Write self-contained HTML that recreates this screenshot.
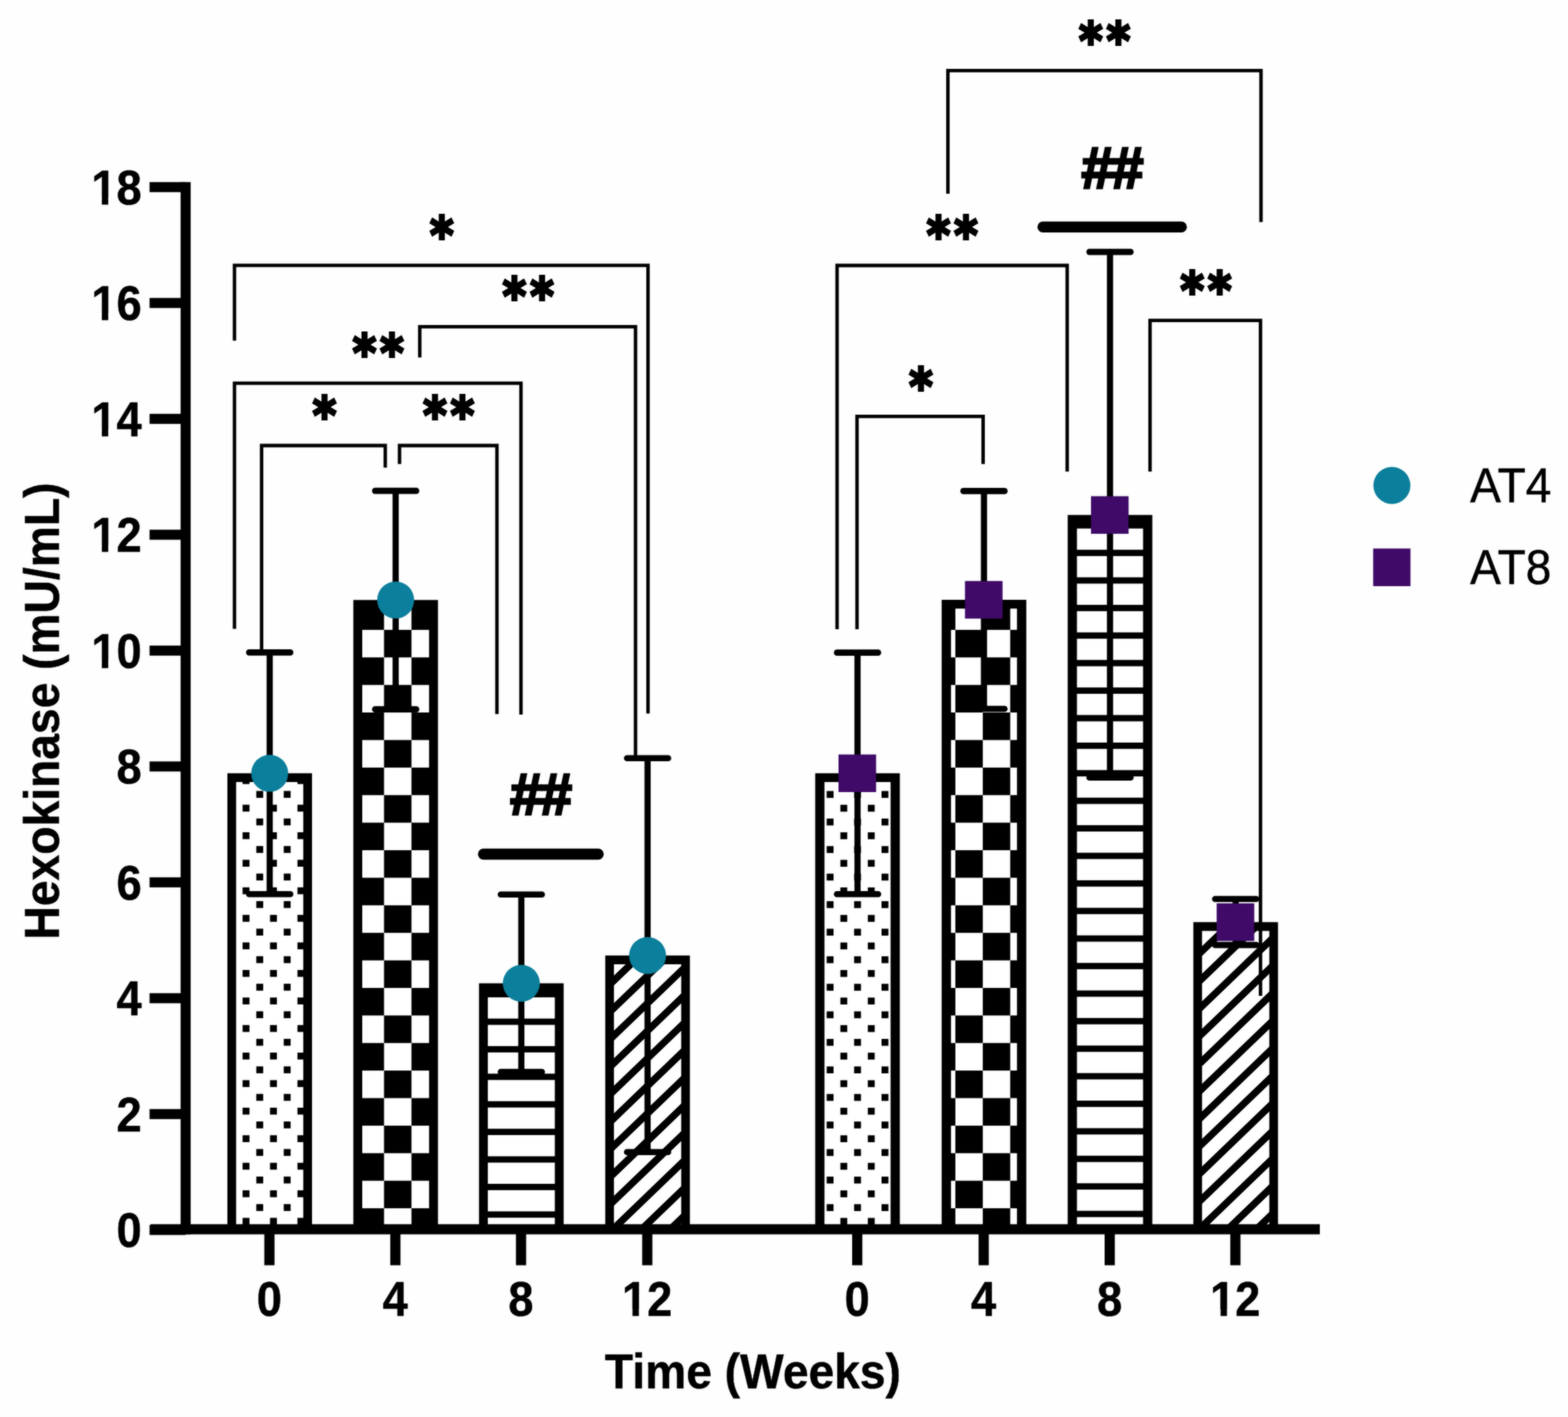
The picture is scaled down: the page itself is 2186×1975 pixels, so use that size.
<!DOCTYPE html>
<html lang="en">
<head>
<meta charset="utf-8">
<title>Hexokinase (mU/mL) vs Time (Weeks)</title>
<style>
html,body{margin:0;padding:0;background:#fefefe;}
body{width:2186px;height:1975px;overflow:hidden;font-family:"Liberation Sans",sans-serif;}
svg{display:block;}
.soft{filter:blur(0.8px);opacity:.55;}
</style>
</head>
<body>
<svg xmlns="http://www.w3.org/2000/svg" width="2186" height="1975" viewBox="0 0 2186 1975">
<g id="chart">
<rect width="2186" height="1975" fill="#fefefe"/>
<clipPath id="c0"><rect x="319.00" y="1079.80" width="114.00" height="634.50"/></clipPath>
<rect x="318.00" y="1078.80" width="116.00" height="635.50" fill="#fff" />
<g clip-path="url(#c0)">
<rect x="280.82" y="1064.02" width="9.60" height="9.60" fill="#000" />
<rect x="319.07" y="1064.02" width="9.60" height="9.60" fill="#000" />
<rect x="357.32" y="1064.02" width="9.60" height="9.60" fill="#000" />
<rect x="395.57" y="1064.02" width="9.60" height="9.60" fill="#000" />
<rect x="433.82" y="1064.02" width="9.60" height="9.60" fill="#000" />
<rect x="472.07" y="1064.02" width="9.60" height="9.60" fill="#000" />
<rect x="261.70" y="1083.21" width="9.60" height="9.60" fill="#000" />
<rect x="299.95" y="1083.21" width="9.60" height="9.60" fill="#000" />
<rect x="338.20" y="1083.21" width="9.60" height="9.60" fill="#000" />
<rect x="376.45" y="1083.21" width="9.60" height="9.60" fill="#000" />
<rect x="414.70" y="1083.21" width="9.60" height="9.60" fill="#000" />
<rect x="452.95" y="1083.21" width="9.60" height="9.60" fill="#000" />
<rect x="491.20" y="1083.21" width="9.60" height="9.60" fill="#000" />
<rect x="280.82" y="1102.41" width="9.60" height="9.60" fill="#000" />
<rect x="319.07" y="1102.41" width="9.60" height="9.60" fill="#000" />
<rect x="357.32" y="1102.41" width="9.60" height="9.60" fill="#000" />
<rect x="395.57" y="1102.41" width="9.60" height="9.60" fill="#000" />
<rect x="433.82" y="1102.41" width="9.60" height="9.60" fill="#000" />
<rect x="472.07" y="1102.41" width="9.60" height="9.60" fill="#000" />
<rect x="261.70" y="1121.60" width="9.60" height="9.60" fill="#000" />
<rect x="299.95" y="1121.60" width="9.60" height="9.60" fill="#000" />
<rect x="338.20" y="1121.60" width="9.60" height="9.60" fill="#000" />
<rect x="376.45" y="1121.60" width="9.60" height="9.60" fill="#000" />
<rect x="414.70" y="1121.60" width="9.60" height="9.60" fill="#000" />
<rect x="452.95" y="1121.60" width="9.60" height="9.60" fill="#000" />
<rect x="491.20" y="1121.60" width="9.60" height="9.60" fill="#000" />
<rect x="280.82" y="1140.80" width="9.60" height="9.60" fill="#000" />
<rect x="319.07" y="1140.80" width="9.60" height="9.60" fill="#000" />
<rect x="357.32" y="1140.80" width="9.60" height="9.60" fill="#000" />
<rect x="395.57" y="1140.80" width="9.60" height="9.60" fill="#000" />
<rect x="433.82" y="1140.80" width="9.60" height="9.60" fill="#000" />
<rect x="472.07" y="1140.80" width="9.60" height="9.60" fill="#000" />
<rect x="261.70" y="1159.99" width="9.60" height="9.60" fill="#000" />
<rect x="299.95" y="1159.99" width="9.60" height="9.60" fill="#000" />
<rect x="338.20" y="1159.99" width="9.60" height="9.60" fill="#000" />
<rect x="376.45" y="1159.99" width="9.60" height="9.60" fill="#000" />
<rect x="414.70" y="1159.99" width="9.60" height="9.60" fill="#000" />
<rect x="452.95" y="1159.99" width="9.60" height="9.60" fill="#000" />
<rect x="491.20" y="1159.99" width="9.60" height="9.60" fill="#000" />
<rect x="280.82" y="1179.19" width="9.60" height="9.60" fill="#000" />
<rect x="319.07" y="1179.19" width="9.60" height="9.60" fill="#000" />
<rect x="357.32" y="1179.19" width="9.60" height="9.60" fill="#000" />
<rect x="395.57" y="1179.19" width="9.60" height="9.60" fill="#000" />
<rect x="433.82" y="1179.19" width="9.60" height="9.60" fill="#000" />
<rect x="472.07" y="1179.19" width="9.60" height="9.60" fill="#000" />
<rect x="261.70" y="1198.38" width="9.60" height="9.60" fill="#000" />
<rect x="299.95" y="1198.38" width="9.60" height="9.60" fill="#000" />
<rect x="338.20" y="1198.38" width="9.60" height="9.60" fill="#000" />
<rect x="376.45" y="1198.38" width="9.60" height="9.60" fill="#000" />
<rect x="414.70" y="1198.38" width="9.60" height="9.60" fill="#000" />
<rect x="452.95" y="1198.38" width="9.60" height="9.60" fill="#000" />
<rect x="491.20" y="1198.38" width="9.60" height="9.60" fill="#000" />
<rect x="280.82" y="1217.58" width="9.60" height="9.60" fill="#000" />
<rect x="319.07" y="1217.58" width="9.60" height="9.60" fill="#000" />
<rect x="357.32" y="1217.58" width="9.60" height="9.60" fill="#000" />
<rect x="395.57" y="1217.58" width="9.60" height="9.60" fill="#000" />
<rect x="433.82" y="1217.58" width="9.60" height="9.60" fill="#000" />
<rect x="472.07" y="1217.58" width="9.60" height="9.60" fill="#000" />
<rect x="261.70" y="1236.77" width="9.60" height="9.60" fill="#000" />
<rect x="299.95" y="1236.77" width="9.60" height="9.60" fill="#000" />
<rect x="338.20" y="1236.77" width="9.60" height="9.60" fill="#000" />
<rect x="376.45" y="1236.77" width="9.60" height="9.60" fill="#000" />
<rect x="414.70" y="1236.77" width="9.60" height="9.60" fill="#000" />
<rect x="452.95" y="1236.77" width="9.60" height="9.60" fill="#000" />
<rect x="491.20" y="1236.77" width="9.60" height="9.60" fill="#000" />
<rect x="280.82" y="1255.97" width="9.60" height="9.60" fill="#000" />
<rect x="319.07" y="1255.97" width="9.60" height="9.60" fill="#000" />
<rect x="357.32" y="1255.97" width="9.60" height="9.60" fill="#000" />
<rect x="395.57" y="1255.97" width="9.60" height="9.60" fill="#000" />
<rect x="433.82" y="1255.97" width="9.60" height="9.60" fill="#000" />
<rect x="472.07" y="1255.97" width="9.60" height="9.60" fill="#000" />
<rect x="261.70" y="1275.16" width="9.60" height="9.60" fill="#000" />
<rect x="299.95" y="1275.16" width="9.60" height="9.60" fill="#000" />
<rect x="338.20" y="1275.16" width="9.60" height="9.60" fill="#000" />
<rect x="376.45" y="1275.16" width="9.60" height="9.60" fill="#000" />
<rect x="414.70" y="1275.16" width="9.60" height="9.60" fill="#000" />
<rect x="452.95" y="1275.16" width="9.60" height="9.60" fill="#000" />
<rect x="491.20" y="1275.16" width="9.60" height="9.60" fill="#000" />
<rect x="280.82" y="1294.36" width="9.60" height="9.60" fill="#000" />
<rect x="319.07" y="1294.36" width="9.60" height="9.60" fill="#000" />
<rect x="357.32" y="1294.36" width="9.60" height="9.60" fill="#000" />
<rect x="395.57" y="1294.36" width="9.60" height="9.60" fill="#000" />
<rect x="433.82" y="1294.36" width="9.60" height="9.60" fill="#000" />
<rect x="472.07" y="1294.36" width="9.60" height="9.60" fill="#000" />
<rect x="261.70" y="1313.55" width="9.60" height="9.60" fill="#000" />
<rect x="299.95" y="1313.55" width="9.60" height="9.60" fill="#000" />
<rect x="338.20" y="1313.55" width="9.60" height="9.60" fill="#000" />
<rect x="376.45" y="1313.55" width="9.60" height="9.60" fill="#000" />
<rect x="414.70" y="1313.55" width="9.60" height="9.60" fill="#000" />
<rect x="452.95" y="1313.55" width="9.60" height="9.60" fill="#000" />
<rect x="491.20" y="1313.55" width="9.60" height="9.60" fill="#000" />
<rect x="280.82" y="1332.75" width="9.60" height="9.60" fill="#000" />
<rect x="319.07" y="1332.75" width="9.60" height="9.60" fill="#000" />
<rect x="357.32" y="1332.75" width="9.60" height="9.60" fill="#000" />
<rect x="395.57" y="1332.75" width="9.60" height="9.60" fill="#000" />
<rect x="433.82" y="1332.75" width="9.60" height="9.60" fill="#000" />
<rect x="472.07" y="1332.75" width="9.60" height="9.60" fill="#000" />
<rect x="261.70" y="1351.94" width="9.60" height="9.60" fill="#000" />
<rect x="299.95" y="1351.94" width="9.60" height="9.60" fill="#000" />
<rect x="338.20" y="1351.94" width="9.60" height="9.60" fill="#000" />
<rect x="376.45" y="1351.94" width="9.60" height="9.60" fill="#000" />
<rect x="414.70" y="1351.94" width="9.60" height="9.60" fill="#000" />
<rect x="452.95" y="1351.94" width="9.60" height="9.60" fill="#000" />
<rect x="491.20" y="1351.94" width="9.60" height="9.60" fill="#000" />
<rect x="280.82" y="1371.14" width="9.60" height="9.60" fill="#000" />
<rect x="319.07" y="1371.14" width="9.60" height="9.60" fill="#000" />
<rect x="357.32" y="1371.14" width="9.60" height="9.60" fill="#000" />
<rect x="395.57" y="1371.14" width="9.60" height="9.60" fill="#000" />
<rect x="433.82" y="1371.14" width="9.60" height="9.60" fill="#000" />
<rect x="472.07" y="1371.14" width="9.60" height="9.60" fill="#000" />
<rect x="261.70" y="1390.33" width="9.60" height="9.60" fill="#000" />
<rect x="299.95" y="1390.33" width="9.60" height="9.60" fill="#000" />
<rect x="338.20" y="1390.33" width="9.60" height="9.60" fill="#000" />
<rect x="376.45" y="1390.33" width="9.60" height="9.60" fill="#000" />
<rect x="414.70" y="1390.33" width="9.60" height="9.60" fill="#000" />
<rect x="452.95" y="1390.33" width="9.60" height="9.60" fill="#000" />
<rect x="491.20" y="1390.33" width="9.60" height="9.60" fill="#000" />
<rect x="280.82" y="1409.53" width="9.60" height="9.60" fill="#000" />
<rect x="319.07" y="1409.53" width="9.60" height="9.60" fill="#000" />
<rect x="357.32" y="1409.53" width="9.60" height="9.60" fill="#000" />
<rect x="395.57" y="1409.53" width="9.60" height="9.60" fill="#000" />
<rect x="433.82" y="1409.53" width="9.60" height="9.60" fill="#000" />
<rect x="472.07" y="1409.53" width="9.60" height="9.60" fill="#000" />
<rect x="261.70" y="1428.72" width="9.60" height="9.60" fill="#000" />
<rect x="299.95" y="1428.72" width="9.60" height="9.60" fill="#000" />
<rect x="338.20" y="1428.72" width="9.60" height="9.60" fill="#000" />
<rect x="376.45" y="1428.72" width="9.60" height="9.60" fill="#000" />
<rect x="414.70" y="1428.72" width="9.60" height="9.60" fill="#000" />
<rect x="452.95" y="1428.72" width="9.60" height="9.60" fill="#000" />
<rect x="491.20" y="1428.72" width="9.60" height="9.60" fill="#000" />
<rect x="280.82" y="1447.92" width="9.60" height="9.60" fill="#000" />
<rect x="319.07" y="1447.92" width="9.60" height="9.60" fill="#000" />
<rect x="357.32" y="1447.92" width="9.60" height="9.60" fill="#000" />
<rect x="395.57" y="1447.92" width="9.60" height="9.60" fill="#000" />
<rect x="433.82" y="1447.92" width="9.60" height="9.60" fill="#000" />
<rect x="472.07" y="1447.92" width="9.60" height="9.60" fill="#000" />
<rect x="261.70" y="1467.11" width="9.60" height="9.60" fill="#000" />
<rect x="299.95" y="1467.11" width="9.60" height="9.60" fill="#000" />
<rect x="338.20" y="1467.11" width="9.60" height="9.60" fill="#000" />
<rect x="376.45" y="1467.11" width="9.60" height="9.60" fill="#000" />
<rect x="414.70" y="1467.11" width="9.60" height="9.60" fill="#000" />
<rect x="452.95" y="1467.11" width="9.60" height="9.60" fill="#000" />
<rect x="491.20" y="1467.11" width="9.60" height="9.60" fill="#000" />
<rect x="280.82" y="1486.31" width="9.60" height="9.60" fill="#000" />
<rect x="319.07" y="1486.31" width="9.60" height="9.60" fill="#000" />
<rect x="357.32" y="1486.31" width="9.60" height="9.60" fill="#000" />
<rect x="395.57" y="1486.31" width="9.60" height="9.60" fill="#000" />
<rect x="433.82" y="1486.31" width="9.60" height="9.60" fill="#000" />
<rect x="472.07" y="1486.31" width="9.60" height="9.60" fill="#000" />
<rect x="261.70" y="1505.50" width="9.60" height="9.60" fill="#000" />
<rect x="299.95" y="1505.50" width="9.60" height="9.60" fill="#000" />
<rect x="338.20" y="1505.50" width="9.60" height="9.60" fill="#000" />
<rect x="376.45" y="1505.50" width="9.60" height="9.60" fill="#000" />
<rect x="414.70" y="1505.50" width="9.60" height="9.60" fill="#000" />
<rect x="452.95" y="1505.50" width="9.60" height="9.60" fill="#000" />
<rect x="491.20" y="1505.50" width="9.60" height="9.60" fill="#000" />
<rect x="280.82" y="1524.70" width="9.60" height="9.60" fill="#000" />
<rect x="319.07" y="1524.70" width="9.60" height="9.60" fill="#000" />
<rect x="357.32" y="1524.70" width="9.60" height="9.60" fill="#000" />
<rect x="395.57" y="1524.70" width="9.60" height="9.60" fill="#000" />
<rect x="433.82" y="1524.70" width="9.60" height="9.60" fill="#000" />
<rect x="472.07" y="1524.70" width="9.60" height="9.60" fill="#000" />
<rect x="261.70" y="1543.89" width="9.60" height="9.60" fill="#000" />
<rect x="299.95" y="1543.89" width="9.60" height="9.60" fill="#000" />
<rect x="338.20" y="1543.89" width="9.60" height="9.60" fill="#000" />
<rect x="376.45" y="1543.89" width="9.60" height="9.60" fill="#000" />
<rect x="414.70" y="1543.89" width="9.60" height="9.60" fill="#000" />
<rect x="452.95" y="1543.89" width="9.60" height="9.60" fill="#000" />
<rect x="491.20" y="1543.89" width="9.60" height="9.60" fill="#000" />
<rect x="280.82" y="1563.09" width="9.60" height="9.60" fill="#000" />
<rect x="319.07" y="1563.09" width="9.60" height="9.60" fill="#000" />
<rect x="357.32" y="1563.09" width="9.60" height="9.60" fill="#000" />
<rect x="395.57" y="1563.09" width="9.60" height="9.60" fill="#000" />
<rect x="433.82" y="1563.09" width="9.60" height="9.60" fill="#000" />
<rect x="472.07" y="1563.09" width="9.60" height="9.60" fill="#000" />
<rect x="261.70" y="1582.28" width="9.60" height="9.60" fill="#000" />
<rect x="299.95" y="1582.28" width="9.60" height="9.60" fill="#000" />
<rect x="338.20" y="1582.28" width="9.60" height="9.60" fill="#000" />
<rect x="376.45" y="1582.28" width="9.60" height="9.60" fill="#000" />
<rect x="414.70" y="1582.28" width="9.60" height="9.60" fill="#000" />
<rect x="452.95" y="1582.28" width="9.60" height="9.60" fill="#000" />
<rect x="491.20" y="1582.28" width="9.60" height="9.60" fill="#000" />
<rect x="280.82" y="1601.48" width="9.60" height="9.60" fill="#000" />
<rect x="319.07" y="1601.48" width="9.60" height="9.60" fill="#000" />
<rect x="357.32" y="1601.48" width="9.60" height="9.60" fill="#000" />
<rect x="395.57" y="1601.48" width="9.60" height="9.60" fill="#000" />
<rect x="433.82" y="1601.48" width="9.60" height="9.60" fill="#000" />
<rect x="472.07" y="1601.48" width="9.60" height="9.60" fill="#000" />
<rect x="261.70" y="1620.67" width="9.60" height="9.60" fill="#000" />
<rect x="299.95" y="1620.67" width="9.60" height="9.60" fill="#000" />
<rect x="338.20" y="1620.67" width="9.60" height="9.60" fill="#000" />
<rect x="376.45" y="1620.67" width="9.60" height="9.60" fill="#000" />
<rect x="414.70" y="1620.67" width="9.60" height="9.60" fill="#000" />
<rect x="452.95" y="1620.67" width="9.60" height="9.60" fill="#000" />
<rect x="491.20" y="1620.67" width="9.60" height="9.60" fill="#000" />
<rect x="280.82" y="1639.87" width="9.60" height="9.60" fill="#000" />
<rect x="319.07" y="1639.87" width="9.60" height="9.60" fill="#000" />
<rect x="357.32" y="1639.87" width="9.60" height="9.60" fill="#000" />
<rect x="395.57" y="1639.87" width="9.60" height="9.60" fill="#000" />
<rect x="433.82" y="1639.87" width="9.60" height="9.60" fill="#000" />
<rect x="472.07" y="1639.87" width="9.60" height="9.60" fill="#000" />
<rect x="261.70" y="1659.06" width="9.60" height="9.60" fill="#000" />
<rect x="299.95" y="1659.06" width="9.60" height="9.60" fill="#000" />
<rect x="338.20" y="1659.06" width="9.60" height="9.60" fill="#000" />
<rect x="376.45" y="1659.06" width="9.60" height="9.60" fill="#000" />
<rect x="414.70" y="1659.06" width="9.60" height="9.60" fill="#000" />
<rect x="452.95" y="1659.06" width="9.60" height="9.60" fill="#000" />
<rect x="491.20" y="1659.06" width="9.60" height="9.60" fill="#000" />
<rect x="280.82" y="1678.26" width="9.60" height="9.60" fill="#000" />
<rect x="319.07" y="1678.26" width="9.60" height="9.60" fill="#000" />
<rect x="357.32" y="1678.26" width="9.60" height="9.60" fill="#000" />
<rect x="395.57" y="1678.26" width="9.60" height="9.60" fill="#000" />
<rect x="433.82" y="1678.26" width="9.60" height="9.60" fill="#000" />
<rect x="472.07" y="1678.26" width="9.60" height="9.60" fill="#000" />
<rect x="261.70" y="1697.45" width="9.60" height="9.60" fill="#000" />
<rect x="299.95" y="1697.45" width="9.60" height="9.60" fill="#000" />
<rect x="338.20" y="1697.45" width="9.60" height="9.60" fill="#000" />
<rect x="376.45" y="1697.45" width="9.60" height="9.60" fill="#000" />
<rect x="414.70" y="1697.45" width="9.60" height="9.60" fill="#000" />
<rect x="452.95" y="1697.45" width="9.60" height="9.60" fill="#000" />
<rect x="491.20" y="1697.45" width="9.60" height="9.60" fill="#000" />
<rect x="280.82" y="1716.65" width="9.60" height="9.60" fill="#000" />
<rect x="319.07" y="1716.65" width="9.60" height="9.60" fill="#000" />
<rect x="357.32" y="1716.65" width="9.60" height="9.60" fill="#000" />
<rect x="395.57" y="1716.65" width="9.60" height="9.60" fill="#000" />
<rect x="433.82" y="1716.65" width="9.60" height="9.60" fill="#000" />
<rect x="472.07" y="1716.65" width="9.60" height="9.60" fill="#000" />
<rect x="261.70" y="1735.84" width="9.60" height="9.60" fill="#000" />
<rect x="299.95" y="1735.84" width="9.60" height="9.60" fill="#000" />
<rect x="338.20" y="1735.84" width="9.60" height="9.60" fill="#000" />
<rect x="376.45" y="1735.84" width="9.60" height="9.60" fill="#000" />
<rect x="414.70" y="1735.84" width="9.60" height="9.60" fill="#000" />
<rect x="452.95" y="1735.84" width="9.60" height="9.60" fill="#000" />
<rect x="491.20" y="1735.84" width="9.60" height="9.60" fill="#000" />
</g>
<path d="M317.00 1714.30 V1077.80 H435.00 V1714.30 H422.80 V1090.00 H329.20 V1714.30 Z" fill="#000"/>
<clipPath id="c1"><rect x="494.60" y="838.30" width="114.00" height="876.00"/></clipPath>
<rect x="493.60" y="837.30" width="116.00" height="877.00" fill="#fff" />
<g clip-path="url(#c1)">
<rect x="458.90" y="801.12" width="38.25" height="38.39" fill="#000" />
<rect x="535.40" y="801.12" width="38.25" height="38.39" fill="#000" />
<rect x="611.90" y="801.12" width="38.25" height="38.39" fill="#000" />
<rect x="497.15" y="839.51" width="38.25" height="38.39" fill="#000" />
<rect x="573.65" y="839.51" width="38.25" height="38.39" fill="#000" />
<rect x="650.15" y="839.51" width="38.25" height="38.39" fill="#000" />
<rect x="458.90" y="877.90" width="38.25" height="38.39" fill="#000" />
<rect x="535.40" y="877.90" width="38.25" height="38.39" fill="#000" />
<rect x="611.90" y="877.90" width="38.25" height="38.39" fill="#000" />
<rect x="497.15" y="916.29" width="38.25" height="38.39" fill="#000" />
<rect x="573.65" y="916.29" width="38.25" height="38.39" fill="#000" />
<rect x="650.15" y="916.29" width="38.25" height="38.39" fill="#000" />
<rect x="458.90" y="954.68" width="38.25" height="38.39" fill="#000" />
<rect x="535.40" y="954.68" width="38.25" height="38.39" fill="#000" />
<rect x="611.90" y="954.68" width="38.25" height="38.39" fill="#000" />
<rect x="497.15" y="993.07" width="38.25" height="38.39" fill="#000" />
<rect x="573.65" y="993.07" width="38.25" height="38.39" fill="#000" />
<rect x="650.15" y="993.07" width="38.25" height="38.39" fill="#000" />
<rect x="458.90" y="1031.46" width="38.25" height="38.39" fill="#000" />
<rect x="535.40" y="1031.46" width="38.25" height="38.39" fill="#000" />
<rect x="611.90" y="1031.46" width="38.25" height="38.39" fill="#000" />
<rect x="497.15" y="1069.85" width="38.25" height="38.39" fill="#000" />
<rect x="573.65" y="1069.85" width="38.25" height="38.39" fill="#000" />
<rect x="650.15" y="1069.85" width="38.25" height="38.39" fill="#000" />
<rect x="458.90" y="1108.24" width="38.25" height="38.39" fill="#000" />
<rect x="535.40" y="1108.24" width="38.25" height="38.39" fill="#000" />
<rect x="611.90" y="1108.24" width="38.25" height="38.39" fill="#000" />
<rect x="497.15" y="1146.63" width="38.25" height="38.39" fill="#000" />
<rect x="573.65" y="1146.63" width="38.25" height="38.39" fill="#000" />
<rect x="650.15" y="1146.63" width="38.25" height="38.39" fill="#000" />
<rect x="458.90" y="1185.02" width="38.25" height="38.39" fill="#000" />
<rect x="535.40" y="1185.02" width="38.25" height="38.39" fill="#000" />
<rect x="611.90" y="1185.02" width="38.25" height="38.39" fill="#000" />
<rect x="497.15" y="1223.41" width="38.25" height="38.39" fill="#000" />
<rect x="573.65" y="1223.41" width="38.25" height="38.39" fill="#000" />
<rect x="650.15" y="1223.41" width="38.25" height="38.39" fill="#000" />
<rect x="458.90" y="1261.80" width="38.25" height="38.39" fill="#000" />
<rect x="535.40" y="1261.80" width="38.25" height="38.39" fill="#000" />
<rect x="611.90" y="1261.80" width="38.25" height="38.39" fill="#000" />
<rect x="497.15" y="1300.19" width="38.25" height="38.39" fill="#000" />
<rect x="573.65" y="1300.19" width="38.25" height="38.39" fill="#000" />
<rect x="650.15" y="1300.19" width="38.25" height="38.39" fill="#000" />
<rect x="458.90" y="1338.58" width="38.25" height="38.39" fill="#000" />
<rect x="535.40" y="1338.58" width="38.25" height="38.39" fill="#000" />
<rect x="611.90" y="1338.58" width="38.25" height="38.39" fill="#000" />
<rect x="497.15" y="1376.97" width="38.25" height="38.39" fill="#000" />
<rect x="573.65" y="1376.97" width="38.25" height="38.39" fill="#000" />
<rect x="650.15" y="1376.97" width="38.25" height="38.39" fill="#000" />
<rect x="458.90" y="1415.36" width="38.25" height="38.39" fill="#000" />
<rect x="535.40" y="1415.36" width="38.25" height="38.39" fill="#000" />
<rect x="611.90" y="1415.36" width="38.25" height="38.39" fill="#000" />
<rect x="497.15" y="1453.75" width="38.25" height="38.39" fill="#000" />
<rect x="573.65" y="1453.75" width="38.25" height="38.39" fill="#000" />
<rect x="650.15" y="1453.75" width="38.25" height="38.39" fill="#000" />
<rect x="458.90" y="1492.14" width="38.25" height="38.39" fill="#000" />
<rect x="535.40" y="1492.14" width="38.25" height="38.39" fill="#000" />
<rect x="611.90" y="1492.14" width="38.25" height="38.39" fill="#000" />
<rect x="497.15" y="1530.53" width="38.25" height="38.39" fill="#000" />
<rect x="573.65" y="1530.53" width="38.25" height="38.39" fill="#000" />
<rect x="650.15" y="1530.53" width="38.25" height="38.39" fill="#000" />
<rect x="458.90" y="1568.92" width="38.25" height="38.39" fill="#000" />
<rect x="535.40" y="1568.92" width="38.25" height="38.39" fill="#000" />
<rect x="611.90" y="1568.92" width="38.25" height="38.39" fill="#000" />
<rect x="497.15" y="1607.31" width="38.25" height="38.39" fill="#000" />
<rect x="573.65" y="1607.31" width="38.25" height="38.39" fill="#000" />
<rect x="650.15" y="1607.31" width="38.25" height="38.39" fill="#000" />
<rect x="458.90" y="1645.70" width="38.25" height="38.39" fill="#000" />
<rect x="535.40" y="1645.70" width="38.25" height="38.39" fill="#000" />
<rect x="611.90" y="1645.70" width="38.25" height="38.39" fill="#000" />
<rect x="497.15" y="1684.09" width="38.25" height="38.39" fill="#000" />
<rect x="573.65" y="1684.09" width="38.25" height="38.39" fill="#000" />
<rect x="650.15" y="1684.09" width="38.25" height="38.39" fill="#000" />
<rect x="458.90" y="1722.48" width="38.25" height="38.39" fill="#000" />
<rect x="535.40" y="1722.48" width="38.25" height="38.39" fill="#000" />
<rect x="611.90" y="1722.48" width="38.25" height="38.39" fill="#000" />
<rect x="497.15" y="1760.87" width="38.25" height="38.39" fill="#000" />
<rect x="573.65" y="1760.87" width="38.25" height="38.39" fill="#000" />
<rect x="650.15" y="1760.87" width="38.25" height="38.39" fill="#000" />
</g>
<path d="M492.60 1714.30 V836.30 H610.60 V1714.30 H598.20 V848.60 H505.00 V1714.30 Z" fill="#000"/>
<clipPath id="c2"><rect x="669.80" y="1372.50" width="114.00" height="341.80"/></clipPath>
<rect x="668.80" y="1371.50" width="116.00" height="342.80" fill="#fff" />
<g clip-path="url(#c2)">
<rect x="679.10" y="1304.51" width="95.40" height="8.80" fill="#000" />
<rect x="679.10" y="1342.90" width="95.40" height="8.80" fill="#000" />
<rect x="679.10" y="1381.29" width="95.40" height="8.80" fill="#000" />
<rect x="679.10" y="1419.68" width="95.40" height="8.80" fill="#000" />
<rect x="679.10" y="1458.07" width="95.40" height="8.80" fill="#000" />
<rect x="679.10" y="1496.46" width="95.40" height="8.80" fill="#000" />
<rect x="679.10" y="1534.85" width="95.40" height="8.80" fill="#000" />
<rect x="679.10" y="1573.24" width="95.40" height="8.80" fill="#000" />
<rect x="679.10" y="1611.63" width="95.40" height="8.80" fill="#000" />
<rect x="679.10" y="1650.02" width="95.40" height="8.80" fill="#000" />
<rect x="679.10" y="1688.41" width="95.40" height="8.80" fill="#000" />
<rect x="679.10" y="1726.80" width="95.40" height="8.80" fill="#000" />
<rect x="679.10" y="1765.19" width="95.40" height="8.80" fill="#000" />
</g>
<path d="M667.80 1714.30 V1370.50 H785.80 V1714.30 H773.50 V1382.80 H680.10 V1714.30 Z" fill="#000"/>
<clipPath id="c3"><rect x="845.80" y="1333.80" width="114.00" height="380.50"/></clipPath>
<rect x="844.80" y="1332.80" width="116.00" height="381.50" fill="#fff" />
<g clip-path="url(#c3)">
<path d="M843.80 1256.21 L961.80 1142.70 V1156.40 L843.80 1269.91 Z" fill="#000"/>
<path d="M843.80 1294.60 L961.80 1181.09 V1194.79 L843.80 1308.30 Z" fill="#000"/>
<path d="M843.80 1332.99 L961.80 1219.48 V1233.18 L843.80 1346.69 Z" fill="#000"/>
<path d="M843.80 1371.38 L961.80 1257.87 V1271.57 L843.80 1385.08 Z" fill="#000"/>
<path d="M843.80 1409.77 L961.80 1296.26 V1309.96 L843.80 1423.47 Z" fill="#000"/>
<path d="M843.80 1448.16 L961.80 1334.65 V1348.35 L843.80 1461.86 Z" fill="#000"/>
<path d="M843.80 1486.55 L961.80 1373.04 V1386.74 L843.80 1500.25 Z" fill="#000"/>
<path d="M843.80 1524.94 L961.80 1411.43 V1425.13 L843.80 1538.64 Z" fill="#000"/>
<path d="M843.80 1563.33 L961.80 1449.82 V1463.52 L843.80 1577.03 Z" fill="#000"/>
<path d="M843.80 1601.72 L961.80 1488.21 V1501.91 L843.80 1615.42 Z" fill="#000"/>
<path d="M843.80 1640.11 L961.80 1526.60 V1540.30 L843.80 1653.81 Z" fill="#000"/>
<path d="M843.80 1678.50 L961.80 1564.99 V1578.69 L843.80 1692.20 Z" fill="#000"/>
<path d="M843.80 1716.89 L961.80 1603.38 V1617.08 L843.80 1730.59 Z" fill="#000"/>
<path d="M843.80 1755.28 L961.80 1641.77 V1655.47 L843.80 1768.98 Z" fill="#000"/>
<path d="M843.80 1793.67 L961.80 1680.16 V1693.86 L843.80 1807.37 Z" fill="#000"/>
<path d="M843.80 1832.06 L961.80 1718.55 V1732.25 L843.80 1845.76 Z" fill="#000"/>
<path d="M843.80 1870.45 L961.80 1756.94 V1770.64 L843.80 1884.15 Z" fill="#000"/>
</g>
<path d="M843.80 1714.30 V1331.80 H961.80 V1714.30 H949.70 V1343.90 H855.90 V1714.30 Z" fill="#000"/>
<clipPath id="c4"><rect x="1138.50" y="1079.80" width="114.00" height="634.50"/></clipPath>
<rect x="1137.50" y="1078.80" width="116.00" height="635.50" fill="#fff" />
<g clip-path="url(#c4)">
<rect x="1075.98" y="1064.12" width="9.60" height="9.60" fill="#000" />
<rect x="1114.23" y="1064.12" width="9.60" height="9.60" fill="#000" />
<rect x="1152.48" y="1064.12" width="9.60" height="9.60" fill="#000" />
<rect x="1190.73" y="1064.12" width="9.60" height="9.60" fill="#000" />
<rect x="1228.98" y="1064.12" width="9.60" height="9.60" fill="#000" />
<rect x="1267.23" y="1064.12" width="9.60" height="9.60" fill="#000" />
<rect x="1305.48" y="1064.12" width="9.60" height="9.60" fill="#000" />
<rect x="1095.10" y="1083.31" width="9.60" height="9.60" fill="#000" />
<rect x="1133.35" y="1083.31" width="9.60" height="9.60" fill="#000" />
<rect x="1171.60" y="1083.31" width="9.60" height="9.60" fill="#000" />
<rect x="1209.85" y="1083.31" width="9.60" height="9.60" fill="#000" />
<rect x="1248.10" y="1083.31" width="9.60" height="9.60" fill="#000" />
<rect x="1286.35" y="1083.31" width="9.60" height="9.60" fill="#000" />
<rect x="1075.98" y="1102.51" width="9.60" height="9.60" fill="#000" />
<rect x="1114.23" y="1102.51" width="9.60" height="9.60" fill="#000" />
<rect x="1152.48" y="1102.51" width="9.60" height="9.60" fill="#000" />
<rect x="1190.73" y="1102.51" width="9.60" height="9.60" fill="#000" />
<rect x="1228.98" y="1102.51" width="9.60" height="9.60" fill="#000" />
<rect x="1267.23" y="1102.51" width="9.60" height="9.60" fill="#000" />
<rect x="1305.48" y="1102.51" width="9.60" height="9.60" fill="#000" />
<rect x="1095.10" y="1121.70" width="9.60" height="9.60" fill="#000" />
<rect x="1133.35" y="1121.70" width="9.60" height="9.60" fill="#000" />
<rect x="1171.60" y="1121.70" width="9.60" height="9.60" fill="#000" />
<rect x="1209.85" y="1121.70" width="9.60" height="9.60" fill="#000" />
<rect x="1248.10" y="1121.70" width="9.60" height="9.60" fill="#000" />
<rect x="1286.35" y="1121.70" width="9.60" height="9.60" fill="#000" />
<rect x="1075.98" y="1140.89" width="9.60" height="9.60" fill="#000" />
<rect x="1114.23" y="1140.89" width="9.60" height="9.60" fill="#000" />
<rect x="1152.48" y="1140.89" width="9.60" height="9.60" fill="#000" />
<rect x="1190.73" y="1140.89" width="9.60" height="9.60" fill="#000" />
<rect x="1228.98" y="1140.89" width="9.60" height="9.60" fill="#000" />
<rect x="1267.23" y="1140.89" width="9.60" height="9.60" fill="#000" />
<rect x="1305.48" y="1140.89" width="9.60" height="9.60" fill="#000" />
<rect x="1095.10" y="1160.09" width="9.60" height="9.60" fill="#000" />
<rect x="1133.35" y="1160.09" width="9.60" height="9.60" fill="#000" />
<rect x="1171.60" y="1160.09" width="9.60" height="9.60" fill="#000" />
<rect x="1209.85" y="1160.09" width="9.60" height="9.60" fill="#000" />
<rect x="1248.10" y="1160.09" width="9.60" height="9.60" fill="#000" />
<rect x="1286.35" y="1160.09" width="9.60" height="9.60" fill="#000" />
<rect x="1075.98" y="1179.29" width="9.60" height="9.60" fill="#000" />
<rect x="1114.23" y="1179.29" width="9.60" height="9.60" fill="#000" />
<rect x="1152.48" y="1179.29" width="9.60" height="9.60" fill="#000" />
<rect x="1190.73" y="1179.29" width="9.60" height="9.60" fill="#000" />
<rect x="1228.98" y="1179.29" width="9.60" height="9.60" fill="#000" />
<rect x="1267.23" y="1179.29" width="9.60" height="9.60" fill="#000" />
<rect x="1305.48" y="1179.29" width="9.60" height="9.60" fill="#000" />
<rect x="1095.10" y="1198.48" width="9.60" height="9.60" fill="#000" />
<rect x="1133.35" y="1198.48" width="9.60" height="9.60" fill="#000" />
<rect x="1171.60" y="1198.48" width="9.60" height="9.60" fill="#000" />
<rect x="1209.85" y="1198.48" width="9.60" height="9.60" fill="#000" />
<rect x="1248.10" y="1198.48" width="9.60" height="9.60" fill="#000" />
<rect x="1286.35" y="1198.48" width="9.60" height="9.60" fill="#000" />
<rect x="1075.98" y="1217.67" width="9.60" height="9.60" fill="#000" />
<rect x="1114.23" y="1217.67" width="9.60" height="9.60" fill="#000" />
<rect x="1152.48" y="1217.67" width="9.60" height="9.60" fill="#000" />
<rect x="1190.73" y="1217.67" width="9.60" height="9.60" fill="#000" />
<rect x="1228.98" y="1217.67" width="9.60" height="9.60" fill="#000" />
<rect x="1267.23" y="1217.67" width="9.60" height="9.60" fill="#000" />
<rect x="1305.48" y="1217.67" width="9.60" height="9.60" fill="#000" />
<rect x="1095.10" y="1236.87" width="9.60" height="9.60" fill="#000" />
<rect x="1133.35" y="1236.87" width="9.60" height="9.60" fill="#000" />
<rect x="1171.60" y="1236.87" width="9.60" height="9.60" fill="#000" />
<rect x="1209.85" y="1236.87" width="9.60" height="9.60" fill="#000" />
<rect x="1248.10" y="1236.87" width="9.60" height="9.60" fill="#000" />
<rect x="1286.35" y="1236.87" width="9.60" height="9.60" fill="#000" />
<rect x="1075.98" y="1256.07" width="9.60" height="9.60" fill="#000" />
<rect x="1114.23" y="1256.07" width="9.60" height="9.60" fill="#000" />
<rect x="1152.48" y="1256.07" width="9.60" height="9.60" fill="#000" />
<rect x="1190.73" y="1256.07" width="9.60" height="9.60" fill="#000" />
<rect x="1228.98" y="1256.07" width="9.60" height="9.60" fill="#000" />
<rect x="1267.23" y="1256.07" width="9.60" height="9.60" fill="#000" />
<rect x="1305.48" y="1256.07" width="9.60" height="9.60" fill="#000" />
<rect x="1095.10" y="1275.26" width="9.60" height="9.60" fill="#000" />
<rect x="1133.35" y="1275.26" width="9.60" height="9.60" fill="#000" />
<rect x="1171.60" y="1275.26" width="9.60" height="9.60" fill="#000" />
<rect x="1209.85" y="1275.26" width="9.60" height="9.60" fill="#000" />
<rect x="1248.10" y="1275.26" width="9.60" height="9.60" fill="#000" />
<rect x="1286.35" y="1275.26" width="9.60" height="9.60" fill="#000" />
<rect x="1075.98" y="1294.46" width="9.60" height="9.60" fill="#000" />
<rect x="1114.23" y="1294.46" width="9.60" height="9.60" fill="#000" />
<rect x="1152.48" y="1294.46" width="9.60" height="9.60" fill="#000" />
<rect x="1190.73" y="1294.46" width="9.60" height="9.60" fill="#000" />
<rect x="1228.98" y="1294.46" width="9.60" height="9.60" fill="#000" />
<rect x="1267.23" y="1294.46" width="9.60" height="9.60" fill="#000" />
<rect x="1305.48" y="1294.46" width="9.60" height="9.60" fill="#000" />
<rect x="1095.10" y="1313.65" width="9.60" height="9.60" fill="#000" />
<rect x="1133.35" y="1313.65" width="9.60" height="9.60" fill="#000" />
<rect x="1171.60" y="1313.65" width="9.60" height="9.60" fill="#000" />
<rect x="1209.85" y="1313.65" width="9.60" height="9.60" fill="#000" />
<rect x="1248.10" y="1313.65" width="9.60" height="9.60" fill="#000" />
<rect x="1286.35" y="1313.65" width="9.60" height="9.60" fill="#000" />
<rect x="1075.98" y="1332.85" width="9.60" height="9.60" fill="#000" />
<rect x="1114.23" y="1332.85" width="9.60" height="9.60" fill="#000" />
<rect x="1152.48" y="1332.85" width="9.60" height="9.60" fill="#000" />
<rect x="1190.73" y="1332.85" width="9.60" height="9.60" fill="#000" />
<rect x="1228.98" y="1332.85" width="9.60" height="9.60" fill="#000" />
<rect x="1267.23" y="1332.85" width="9.60" height="9.60" fill="#000" />
<rect x="1305.48" y="1332.85" width="9.60" height="9.60" fill="#000" />
<rect x="1095.10" y="1352.04" width="9.60" height="9.60" fill="#000" />
<rect x="1133.35" y="1352.04" width="9.60" height="9.60" fill="#000" />
<rect x="1171.60" y="1352.04" width="9.60" height="9.60" fill="#000" />
<rect x="1209.85" y="1352.04" width="9.60" height="9.60" fill="#000" />
<rect x="1248.10" y="1352.04" width="9.60" height="9.60" fill="#000" />
<rect x="1286.35" y="1352.04" width="9.60" height="9.60" fill="#000" />
<rect x="1075.98" y="1371.24" width="9.60" height="9.60" fill="#000" />
<rect x="1114.23" y="1371.24" width="9.60" height="9.60" fill="#000" />
<rect x="1152.48" y="1371.24" width="9.60" height="9.60" fill="#000" />
<rect x="1190.73" y="1371.24" width="9.60" height="9.60" fill="#000" />
<rect x="1228.98" y="1371.24" width="9.60" height="9.60" fill="#000" />
<rect x="1267.23" y="1371.24" width="9.60" height="9.60" fill="#000" />
<rect x="1305.48" y="1371.24" width="9.60" height="9.60" fill="#000" />
<rect x="1095.10" y="1390.43" width="9.60" height="9.60" fill="#000" />
<rect x="1133.35" y="1390.43" width="9.60" height="9.60" fill="#000" />
<rect x="1171.60" y="1390.43" width="9.60" height="9.60" fill="#000" />
<rect x="1209.85" y="1390.43" width="9.60" height="9.60" fill="#000" />
<rect x="1248.10" y="1390.43" width="9.60" height="9.60" fill="#000" />
<rect x="1286.35" y="1390.43" width="9.60" height="9.60" fill="#000" />
<rect x="1075.98" y="1409.62" width="9.60" height="9.60" fill="#000" />
<rect x="1114.23" y="1409.62" width="9.60" height="9.60" fill="#000" />
<rect x="1152.48" y="1409.62" width="9.60" height="9.60" fill="#000" />
<rect x="1190.73" y="1409.62" width="9.60" height="9.60" fill="#000" />
<rect x="1228.98" y="1409.62" width="9.60" height="9.60" fill="#000" />
<rect x="1267.23" y="1409.62" width="9.60" height="9.60" fill="#000" />
<rect x="1305.48" y="1409.62" width="9.60" height="9.60" fill="#000" />
<rect x="1095.10" y="1428.82" width="9.60" height="9.60" fill="#000" />
<rect x="1133.35" y="1428.82" width="9.60" height="9.60" fill="#000" />
<rect x="1171.60" y="1428.82" width="9.60" height="9.60" fill="#000" />
<rect x="1209.85" y="1428.82" width="9.60" height="9.60" fill="#000" />
<rect x="1248.10" y="1428.82" width="9.60" height="9.60" fill="#000" />
<rect x="1286.35" y="1428.82" width="9.60" height="9.60" fill="#000" />
<rect x="1075.98" y="1448.02" width="9.60" height="9.60" fill="#000" />
<rect x="1114.23" y="1448.02" width="9.60" height="9.60" fill="#000" />
<rect x="1152.48" y="1448.02" width="9.60" height="9.60" fill="#000" />
<rect x="1190.73" y="1448.02" width="9.60" height="9.60" fill="#000" />
<rect x="1228.98" y="1448.02" width="9.60" height="9.60" fill="#000" />
<rect x="1267.23" y="1448.02" width="9.60" height="9.60" fill="#000" />
<rect x="1305.48" y="1448.02" width="9.60" height="9.60" fill="#000" />
<rect x="1095.10" y="1467.21" width="9.60" height="9.60" fill="#000" />
<rect x="1133.35" y="1467.21" width="9.60" height="9.60" fill="#000" />
<rect x="1171.60" y="1467.21" width="9.60" height="9.60" fill="#000" />
<rect x="1209.85" y="1467.21" width="9.60" height="9.60" fill="#000" />
<rect x="1248.10" y="1467.21" width="9.60" height="9.60" fill="#000" />
<rect x="1286.35" y="1467.21" width="9.60" height="9.60" fill="#000" />
<rect x="1075.98" y="1486.40" width="9.60" height="9.60" fill="#000" />
<rect x="1114.23" y="1486.40" width="9.60" height="9.60" fill="#000" />
<rect x="1152.48" y="1486.40" width="9.60" height="9.60" fill="#000" />
<rect x="1190.73" y="1486.40" width="9.60" height="9.60" fill="#000" />
<rect x="1228.98" y="1486.40" width="9.60" height="9.60" fill="#000" />
<rect x="1267.23" y="1486.40" width="9.60" height="9.60" fill="#000" />
<rect x="1305.48" y="1486.40" width="9.60" height="9.60" fill="#000" />
<rect x="1095.10" y="1505.60" width="9.60" height="9.60" fill="#000" />
<rect x="1133.35" y="1505.60" width="9.60" height="9.60" fill="#000" />
<rect x="1171.60" y="1505.60" width="9.60" height="9.60" fill="#000" />
<rect x="1209.85" y="1505.60" width="9.60" height="9.60" fill="#000" />
<rect x="1248.10" y="1505.60" width="9.60" height="9.60" fill="#000" />
<rect x="1286.35" y="1505.60" width="9.60" height="9.60" fill="#000" />
<rect x="1075.98" y="1524.80" width="9.60" height="9.60" fill="#000" />
<rect x="1114.23" y="1524.80" width="9.60" height="9.60" fill="#000" />
<rect x="1152.48" y="1524.80" width="9.60" height="9.60" fill="#000" />
<rect x="1190.73" y="1524.80" width="9.60" height="9.60" fill="#000" />
<rect x="1228.98" y="1524.80" width="9.60" height="9.60" fill="#000" />
<rect x="1267.23" y="1524.80" width="9.60" height="9.60" fill="#000" />
<rect x="1305.48" y="1524.80" width="9.60" height="9.60" fill="#000" />
<rect x="1095.10" y="1543.99" width="9.60" height="9.60" fill="#000" />
<rect x="1133.35" y="1543.99" width="9.60" height="9.60" fill="#000" />
<rect x="1171.60" y="1543.99" width="9.60" height="9.60" fill="#000" />
<rect x="1209.85" y="1543.99" width="9.60" height="9.60" fill="#000" />
<rect x="1248.10" y="1543.99" width="9.60" height="9.60" fill="#000" />
<rect x="1286.35" y="1543.99" width="9.60" height="9.60" fill="#000" />
<rect x="1075.98" y="1563.19" width="9.60" height="9.60" fill="#000" />
<rect x="1114.23" y="1563.19" width="9.60" height="9.60" fill="#000" />
<rect x="1152.48" y="1563.19" width="9.60" height="9.60" fill="#000" />
<rect x="1190.73" y="1563.19" width="9.60" height="9.60" fill="#000" />
<rect x="1228.98" y="1563.19" width="9.60" height="9.60" fill="#000" />
<rect x="1267.23" y="1563.19" width="9.60" height="9.60" fill="#000" />
<rect x="1305.48" y="1563.19" width="9.60" height="9.60" fill="#000" />
<rect x="1095.10" y="1582.38" width="9.60" height="9.60" fill="#000" />
<rect x="1133.35" y="1582.38" width="9.60" height="9.60" fill="#000" />
<rect x="1171.60" y="1582.38" width="9.60" height="9.60" fill="#000" />
<rect x="1209.85" y="1582.38" width="9.60" height="9.60" fill="#000" />
<rect x="1248.10" y="1582.38" width="9.60" height="9.60" fill="#000" />
<rect x="1286.35" y="1582.38" width="9.60" height="9.60" fill="#000" />
<rect x="1075.98" y="1601.58" width="9.60" height="9.60" fill="#000" />
<rect x="1114.23" y="1601.58" width="9.60" height="9.60" fill="#000" />
<rect x="1152.48" y="1601.58" width="9.60" height="9.60" fill="#000" />
<rect x="1190.73" y="1601.58" width="9.60" height="9.60" fill="#000" />
<rect x="1228.98" y="1601.58" width="9.60" height="9.60" fill="#000" />
<rect x="1267.23" y="1601.58" width="9.60" height="9.60" fill="#000" />
<rect x="1305.48" y="1601.58" width="9.60" height="9.60" fill="#000" />
<rect x="1095.10" y="1620.77" width="9.60" height="9.60" fill="#000" />
<rect x="1133.35" y="1620.77" width="9.60" height="9.60" fill="#000" />
<rect x="1171.60" y="1620.77" width="9.60" height="9.60" fill="#000" />
<rect x="1209.85" y="1620.77" width="9.60" height="9.60" fill="#000" />
<rect x="1248.10" y="1620.77" width="9.60" height="9.60" fill="#000" />
<rect x="1286.35" y="1620.77" width="9.60" height="9.60" fill="#000" />
<rect x="1075.98" y="1639.96" width="9.60" height="9.60" fill="#000" />
<rect x="1114.23" y="1639.96" width="9.60" height="9.60" fill="#000" />
<rect x="1152.48" y="1639.96" width="9.60" height="9.60" fill="#000" />
<rect x="1190.73" y="1639.96" width="9.60" height="9.60" fill="#000" />
<rect x="1228.98" y="1639.96" width="9.60" height="9.60" fill="#000" />
<rect x="1267.23" y="1639.96" width="9.60" height="9.60" fill="#000" />
<rect x="1305.48" y="1639.96" width="9.60" height="9.60" fill="#000" />
<rect x="1095.10" y="1659.16" width="9.60" height="9.60" fill="#000" />
<rect x="1133.35" y="1659.16" width="9.60" height="9.60" fill="#000" />
<rect x="1171.60" y="1659.16" width="9.60" height="9.60" fill="#000" />
<rect x="1209.85" y="1659.16" width="9.60" height="9.60" fill="#000" />
<rect x="1248.10" y="1659.16" width="9.60" height="9.60" fill="#000" />
<rect x="1286.35" y="1659.16" width="9.60" height="9.60" fill="#000" />
<rect x="1075.98" y="1678.36" width="9.60" height="9.60" fill="#000" />
<rect x="1114.23" y="1678.36" width="9.60" height="9.60" fill="#000" />
<rect x="1152.48" y="1678.36" width="9.60" height="9.60" fill="#000" />
<rect x="1190.73" y="1678.36" width="9.60" height="9.60" fill="#000" />
<rect x="1228.98" y="1678.36" width="9.60" height="9.60" fill="#000" />
<rect x="1267.23" y="1678.36" width="9.60" height="9.60" fill="#000" />
<rect x="1305.48" y="1678.36" width="9.60" height="9.60" fill="#000" />
<rect x="1095.10" y="1697.55" width="9.60" height="9.60" fill="#000" />
<rect x="1133.35" y="1697.55" width="9.60" height="9.60" fill="#000" />
<rect x="1171.60" y="1697.55" width="9.60" height="9.60" fill="#000" />
<rect x="1209.85" y="1697.55" width="9.60" height="9.60" fill="#000" />
<rect x="1248.10" y="1697.55" width="9.60" height="9.60" fill="#000" />
<rect x="1286.35" y="1697.55" width="9.60" height="9.60" fill="#000" />
<rect x="1075.98" y="1716.75" width="9.60" height="9.60" fill="#000" />
<rect x="1114.23" y="1716.75" width="9.60" height="9.60" fill="#000" />
<rect x="1152.48" y="1716.75" width="9.60" height="9.60" fill="#000" />
<rect x="1190.73" y="1716.75" width="9.60" height="9.60" fill="#000" />
<rect x="1228.98" y="1716.75" width="9.60" height="9.60" fill="#000" />
<rect x="1267.23" y="1716.75" width="9.60" height="9.60" fill="#000" />
<rect x="1305.48" y="1716.75" width="9.60" height="9.60" fill="#000" />
<rect x="1095.10" y="1735.94" width="9.60" height="9.60" fill="#000" />
<rect x="1133.35" y="1735.94" width="9.60" height="9.60" fill="#000" />
<rect x="1171.60" y="1735.94" width="9.60" height="9.60" fill="#000" />
<rect x="1209.85" y="1735.94" width="9.60" height="9.60" fill="#000" />
<rect x="1248.10" y="1735.94" width="9.60" height="9.60" fill="#000" />
<rect x="1286.35" y="1735.94" width="9.60" height="9.60" fill="#000" />
</g>
<path d="M1136.50 1714.30 V1077.80 H1254.50 V1714.30 H1241.60 V1090.10 H1149.40 V1714.30 Z" fill="#000"/>
<clipPath id="c5"><rect x="1314.80" y="838.00" width="114.00" height="876.30"/></clipPath>
<rect x="1313.80" y="837.00" width="116.00" height="877.30" fill="#fff" />
<g clip-path="url(#c5)">
<rect x="1255.40" y="801.12" width="38.25" height="38.39" fill="#000" />
<rect x="1331.90" y="801.12" width="38.25" height="38.39" fill="#000" />
<rect x="1408.40" y="801.12" width="38.25" height="38.39" fill="#000" />
<rect x="1484.90" y="801.12" width="38.25" height="38.39" fill="#000" />
<rect x="1293.65" y="839.51" width="38.25" height="38.39" fill="#000" />
<rect x="1370.15" y="839.51" width="38.25" height="38.39" fill="#000" />
<rect x="1446.65" y="839.51" width="38.25" height="38.39" fill="#000" />
<rect x="1255.40" y="877.90" width="38.25" height="38.39" fill="#000" />
<rect x="1331.90" y="877.90" width="38.25" height="38.39" fill="#000" />
<rect x="1408.40" y="877.90" width="38.25" height="38.39" fill="#000" />
<rect x="1484.90" y="877.90" width="38.25" height="38.39" fill="#000" />
<rect x="1293.65" y="916.29" width="38.25" height="38.39" fill="#000" />
<rect x="1370.15" y="916.29" width="38.25" height="38.39" fill="#000" />
<rect x="1446.65" y="916.29" width="38.25" height="38.39" fill="#000" />
<rect x="1255.40" y="954.68" width="38.25" height="38.39" fill="#000" />
<rect x="1331.90" y="954.68" width="38.25" height="38.39" fill="#000" />
<rect x="1408.40" y="954.68" width="38.25" height="38.39" fill="#000" />
<rect x="1484.90" y="954.68" width="38.25" height="38.39" fill="#000" />
<rect x="1293.65" y="993.07" width="38.25" height="38.39" fill="#000" />
<rect x="1370.15" y="993.07" width="38.25" height="38.39" fill="#000" />
<rect x="1446.65" y="993.07" width="38.25" height="38.39" fill="#000" />
<rect x="1255.40" y="1031.46" width="38.25" height="38.39" fill="#000" />
<rect x="1331.90" y="1031.46" width="38.25" height="38.39" fill="#000" />
<rect x="1408.40" y="1031.46" width="38.25" height="38.39" fill="#000" />
<rect x="1484.90" y="1031.46" width="38.25" height="38.39" fill="#000" />
<rect x="1293.65" y="1069.85" width="38.25" height="38.39" fill="#000" />
<rect x="1370.15" y="1069.85" width="38.25" height="38.39" fill="#000" />
<rect x="1446.65" y="1069.85" width="38.25" height="38.39" fill="#000" />
<rect x="1255.40" y="1108.24" width="38.25" height="38.39" fill="#000" />
<rect x="1331.90" y="1108.24" width="38.25" height="38.39" fill="#000" />
<rect x="1408.40" y="1108.24" width="38.25" height="38.39" fill="#000" />
<rect x="1484.90" y="1108.24" width="38.25" height="38.39" fill="#000" />
<rect x="1293.65" y="1146.63" width="38.25" height="38.39" fill="#000" />
<rect x="1370.15" y="1146.63" width="38.25" height="38.39" fill="#000" />
<rect x="1446.65" y="1146.63" width="38.25" height="38.39" fill="#000" />
<rect x="1255.40" y="1185.02" width="38.25" height="38.39" fill="#000" />
<rect x="1331.90" y="1185.02" width="38.25" height="38.39" fill="#000" />
<rect x="1408.40" y="1185.02" width="38.25" height="38.39" fill="#000" />
<rect x="1484.90" y="1185.02" width="38.25" height="38.39" fill="#000" />
<rect x="1293.65" y="1223.41" width="38.25" height="38.39" fill="#000" />
<rect x="1370.15" y="1223.41" width="38.25" height="38.39" fill="#000" />
<rect x="1446.65" y="1223.41" width="38.25" height="38.39" fill="#000" />
<rect x="1255.40" y="1261.80" width="38.25" height="38.39" fill="#000" />
<rect x="1331.90" y="1261.80" width="38.25" height="38.39" fill="#000" />
<rect x="1408.40" y="1261.80" width="38.25" height="38.39" fill="#000" />
<rect x="1484.90" y="1261.80" width="38.25" height="38.39" fill="#000" />
<rect x="1293.65" y="1300.19" width="38.25" height="38.39" fill="#000" />
<rect x="1370.15" y="1300.19" width="38.25" height="38.39" fill="#000" />
<rect x="1446.65" y="1300.19" width="38.25" height="38.39" fill="#000" />
<rect x="1255.40" y="1338.58" width="38.25" height="38.39" fill="#000" />
<rect x="1331.90" y="1338.58" width="38.25" height="38.39" fill="#000" />
<rect x="1408.40" y="1338.58" width="38.25" height="38.39" fill="#000" />
<rect x="1484.90" y="1338.58" width="38.25" height="38.39" fill="#000" />
<rect x="1293.65" y="1376.97" width="38.25" height="38.39" fill="#000" />
<rect x="1370.15" y="1376.97" width="38.25" height="38.39" fill="#000" />
<rect x="1446.65" y="1376.97" width="38.25" height="38.39" fill="#000" />
<rect x="1255.40" y="1415.36" width="38.25" height="38.39" fill="#000" />
<rect x="1331.90" y="1415.36" width="38.25" height="38.39" fill="#000" />
<rect x="1408.40" y="1415.36" width="38.25" height="38.39" fill="#000" />
<rect x="1484.90" y="1415.36" width="38.25" height="38.39" fill="#000" />
<rect x="1293.65" y="1453.75" width="38.25" height="38.39" fill="#000" />
<rect x="1370.15" y="1453.75" width="38.25" height="38.39" fill="#000" />
<rect x="1446.65" y="1453.75" width="38.25" height="38.39" fill="#000" />
<rect x="1255.40" y="1492.14" width="38.25" height="38.39" fill="#000" />
<rect x="1331.90" y="1492.14" width="38.25" height="38.39" fill="#000" />
<rect x="1408.40" y="1492.14" width="38.25" height="38.39" fill="#000" />
<rect x="1484.90" y="1492.14" width="38.25" height="38.39" fill="#000" />
<rect x="1293.65" y="1530.53" width="38.25" height="38.39" fill="#000" />
<rect x="1370.15" y="1530.53" width="38.25" height="38.39" fill="#000" />
<rect x="1446.65" y="1530.53" width="38.25" height="38.39" fill="#000" />
<rect x="1255.40" y="1568.92" width="38.25" height="38.39" fill="#000" />
<rect x="1331.90" y="1568.92" width="38.25" height="38.39" fill="#000" />
<rect x="1408.40" y="1568.92" width="38.25" height="38.39" fill="#000" />
<rect x="1484.90" y="1568.92" width="38.25" height="38.39" fill="#000" />
<rect x="1293.65" y="1607.31" width="38.25" height="38.39" fill="#000" />
<rect x="1370.15" y="1607.31" width="38.25" height="38.39" fill="#000" />
<rect x="1446.65" y="1607.31" width="38.25" height="38.39" fill="#000" />
<rect x="1255.40" y="1645.70" width="38.25" height="38.39" fill="#000" />
<rect x="1331.90" y="1645.70" width="38.25" height="38.39" fill="#000" />
<rect x="1408.40" y="1645.70" width="38.25" height="38.39" fill="#000" />
<rect x="1484.90" y="1645.70" width="38.25" height="38.39" fill="#000" />
<rect x="1293.65" y="1684.09" width="38.25" height="38.39" fill="#000" />
<rect x="1370.15" y="1684.09" width="38.25" height="38.39" fill="#000" />
<rect x="1446.65" y="1684.09" width="38.25" height="38.39" fill="#000" />
<rect x="1255.40" y="1722.48" width="38.25" height="38.39" fill="#000" />
<rect x="1331.90" y="1722.48" width="38.25" height="38.39" fill="#000" />
<rect x="1408.40" y="1722.48" width="38.25" height="38.39" fill="#000" />
<rect x="1484.90" y="1722.48" width="38.25" height="38.39" fill="#000" />
<rect x="1293.65" y="1760.87" width="38.25" height="38.39" fill="#000" />
<rect x="1370.15" y="1760.87" width="38.25" height="38.39" fill="#000" />
<rect x="1446.65" y="1760.87" width="38.25" height="38.39" fill="#000" />
</g>
<path d="M1312.80 1714.30 V836.00 H1430.80 V1714.30 H1417.80 V848.30 H1325.80 V1714.30 Z" fill="#000"/>
<clipPath id="c6"><rect x="1490.50" y="719.80" width="114.00" height="994.50"/></clipPath>
<rect x="1489.50" y="718.80" width="116.00" height="995.50" fill="#fff" />
<g clip-path="url(#c6)">
<rect x="1500.40" y="651.08" width="94.20" height="8.80" fill="#000" />
<rect x="1500.40" y="689.47" width="94.20" height="8.80" fill="#000" />
<rect x="1500.40" y="727.86" width="94.20" height="8.80" fill="#000" />
<rect x="1500.40" y="766.25" width="94.20" height="8.80" fill="#000" />
<rect x="1500.40" y="804.64" width="94.20" height="8.80" fill="#000" />
<rect x="1500.40" y="843.03" width="94.20" height="8.80" fill="#000" />
<rect x="1500.40" y="881.42" width="94.20" height="8.80" fill="#000" />
<rect x="1500.40" y="919.81" width="94.20" height="8.80" fill="#000" />
<rect x="1500.40" y="958.20" width="94.20" height="8.80" fill="#000" />
<rect x="1500.40" y="996.59" width="94.20" height="8.80" fill="#000" />
<rect x="1500.40" y="1034.98" width="94.20" height="8.80" fill="#000" />
<rect x="1500.40" y="1073.37" width="94.20" height="8.80" fill="#000" />
<rect x="1500.40" y="1111.76" width="94.20" height="8.80" fill="#000" />
<rect x="1500.40" y="1150.15" width="94.20" height="8.80" fill="#000" />
<rect x="1500.40" y="1188.54" width="94.20" height="8.80" fill="#000" />
<rect x="1500.40" y="1226.93" width="94.20" height="8.80" fill="#000" />
<rect x="1500.40" y="1265.32" width="94.20" height="8.80" fill="#000" />
<rect x="1500.40" y="1303.71" width="94.20" height="8.80" fill="#000" />
<rect x="1500.40" y="1342.10" width="94.20" height="8.80" fill="#000" />
<rect x="1500.40" y="1380.49" width="94.20" height="8.80" fill="#000" />
<rect x="1500.40" y="1418.88" width="94.20" height="8.80" fill="#000" />
<rect x="1500.40" y="1457.27" width="94.20" height="8.80" fill="#000" />
<rect x="1500.40" y="1495.66" width="94.20" height="8.80" fill="#000" />
<rect x="1500.40" y="1534.05" width="94.20" height="8.80" fill="#000" />
<rect x="1500.40" y="1572.44" width="94.20" height="8.80" fill="#000" />
<rect x="1500.40" y="1610.83" width="94.20" height="8.80" fill="#000" />
<rect x="1500.40" y="1649.22" width="94.20" height="8.80" fill="#000" />
<rect x="1500.40" y="1687.61" width="94.20" height="8.80" fill="#000" />
<rect x="1500.40" y="1726.00" width="94.20" height="8.80" fill="#000" />
<rect x="1500.40" y="1764.39" width="94.20" height="8.80" fill="#000" />
</g>
<path d="M1488.50 1714.30 V717.80 H1606.50 V1714.30 H1593.60 V730.10 H1501.40 V1714.30 Z" fill="#000"/>
<clipPath id="c7"><rect x="1665.70" y="1287.30" width="114.00" height="427.00"/></clipPath>
<rect x="1664.70" y="1286.30" width="116.00" height="428.00" fill="#fff" />
<g clip-path="url(#c7)">
<path d="M1663.70 1215.21 L1781.70 1101.69 V1115.39 L1663.70 1228.91 Z" fill="#000"/>
<path d="M1663.70 1253.60 L1781.70 1140.08 V1153.78 L1663.70 1267.30 Z" fill="#000"/>
<path d="M1663.70 1291.99 L1781.70 1178.47 V1192.17 L1663.70 1305.69 Z" fill="#000"/>
<path d="M1663.70 1330.38 L1781.70 1216.86 V1230.56 L1663.70 1344.08 Z" fill="#000"/>
<path d="M1663.70 1368.77 L1781.70 1255.25 V1268.95 L1663.70 1382.47 Z" fill="#000"/>
<path d="M1663.70 1407.16 L1781.70 1293.64 V1307.34 L1663.70 1420.86 Z" fill="#000"/>
<path d="M1663.70 1445.55 L1781.70 1332.03 V1345.73 L1663.70 1459.25 Z" fill="#000"/>
<path d="M1663.70 1483.94 L1781.70 1370.42 V1384.12 L1663.70 1497.63 Z" fill="#000"/>
<path d="M1663.70 1522.33 L1781.70 1408.81 V1422.51 L1663.70 1536.03 Z" fill="#000"/>
<path d="M1663.70 1560.72 L1781.70 1447.20 V1460.90 L1663.70 1574.42 Z" fill="#000"/>
<path d="M1663.70 1599.11 L1781.70 1485.59 V1499.29 L1663.70 1612.81 Z" fill="#000"/>
<path d="M1663.70 1637.50 L1781.70 1523.98 V1537.68 L1663.70 1651.20 Z" fill="#000"/>
<path d="M1663.70 1675.89 L1781.70 1562.37 V1576.07 L1663.70 1689.59 Z" fill="#000"/>
<path d="M1663.70 1714.28 L1781.70 1600.76 V1614.46 L1663.70 1727.98 Z" fill="#000"/>
<path d="M1663.70 1752.67 L1781.70 1639.15 V1652.85 L1663.70 1766.37 Z" fill="#000"/>
<path d="M1663.70 1791.06 L1781.70 1677.54 V1691.24 L1663.70 1804.76 Z" fill="#000"/>
<path d="M1663.70 1829.45 L1781.70 1715.93 V1729.63 L1663.70 1843.14 Z" fill="#000"/>
<path d="M1663.70 1867.84 L1781.70 1754.32 V1768.02 L1663.70 1881.54 Z" fill="#000"/>
</g>
<path d="M1663.70 1714.30 V1285.30 H1781.70 V1714.30 H1769.60 V1297.40 H1675.80 V1714.30 Z" fill="#000"/>
<rect x="251.80" y="253.80" width="14.00" height="1466.60" fill="#000" />
<rect x="210.00" y="1706.30" width="1630.00" height="14.10" fill="#000" />
<rect x="208.50" y="1707.30" width="50.30" height="14.00" fill="#000" />
<text transform="translate(197.40 1738.30) scale(1.0 1.088)" font-size="62.9" font-weight="bold" text-anchor="end" font-family='"Liberation Sans", sans-serif' stroke="#000" stroke-width="0.6" stroke-linejoin="miter" >0</text>
<rect x="208.50" y="1545.80" width="50.30" height="14.00" fill="#000" />
<text transform="translate(197.40 1576.80) scale(1.0 1.088)" font-size="62.9" font-weight="bold" text-anchor="end" font-family='"Liberation Sans", sans-serif' stroke="#000" stroke-width="0.6" stroke-linejoin="miter" >2</text>
<rect x="208.50" y="1384.30" width="50.30" height="14.00" fill="#000" />
<text transform="translate(197.40 1415.30) scale(1.0 1.088)" font-size="62.9" font-weight="bold" text-anchor="end" font-family='"Liberation Sans", sans-serif' stroke="#000" stroke-width="0.6" stroke-linejoin="miter" >4</text>
<rect x="208.50" y="1222.80" width="50.30" height="14.00" fill="#000" />
<text transform="translate(197.40 1253.80) scale(1.0 1.088)" font-size="62.9" font-weight="bold" text-anchor="end" font-family='"Liberation Sans", sans-serif' stroke="#000" stroke-width="0.6" stroke-linejoin="miter" >6</text>
<rect x="208.50" y="1061.30" width="50.30" height="14.00" fill="#000" />
<text transform="translate(197.40 1092.30) scale(1.0 1.088)" font-size="62.9" font-weight="bold" text-anchor="end" font-family='"Liberation Sans", sans-serif' stroke="#000" stroke-width="0.6" stroke-linejoin="miter" >8</text>
<rect x="208.50" y="899.80" width="50.30" height="14.00" fill="#000" />
<text transform="translate(197.40 930.80) scale(1.0 1.088)" font-size="62.9" font-weight="bold" text-anchor="end" font-family='"Liberation Sans", sans-serif' stroke="#000" stroke-width="0.6" stroke-linejoin="miter" >10</text>
<rect x="130.20" y="921.32" width="11.77" height="10.68" fill="#fefefe" />
<rect x="150.90" y="921.32" width="10.97" height="10.68" fill="#fefefe" />
<rect x="208.50" y="738.30" width="50.30" height="14.00" fill="#000" />
<text transform="translate(197.40 769.30) scale(1.0 1.088)" font-size="62.9" font-weight="bold" text-anchor="end" font-family='"Liberation Sans", sans-serif' stroke="#000" stroke-width="0.6" stroke-linejoin="miter" >12</text>
<rect x="130.20" y="759.82" width="11.77" height="10.68" fill="#fefefe" />
<rect x="150.90" y="759.82" width="10.97" height="10.68" fill="#fefefe" />
<rect x="208.50" y="576.80" width="50.30" height="14.00" fill="#000" />
<text transform="translate(197.40 607.80) scale(1.0 1.088)" font-size="62.9" font-weight="bold" text-anchor="end" font-family='"Liberation Sans", sans-serif' stroke="#000" stroke-width="0.6" stroke-linejoin="miter" >14</text>
<rect x="130.20" y="598.32" width="11.77" height="10.68" fill="#fefefe" />
<rect x="150.90" y="598.32" width="10.97" height="10.68" fill="#fefefe" />
<rect x="208.50" y="415.30" width="50.30" height="14.00" fill="#000" />
<text transform="translate(197.40 446.30) scale(1.0 1.088)" font-size="62.9" font-weight="bold" text-anchor="end" font-family='"Liberation Sans", sans-serif' stroke="#000" stroke-width="0.6" stroke-linejoin="miter" >16</text>
<rect x="130.20" y="436.82" width="11.77" height="10.68" fill="#fefefe" />
<rect x="150.90" y="436.82" width="10.97" height="10.68" fill="#fefefe" />
<rect x="208.50" y="253.80" width="50.30" height="14.00" fill="#000" />
<text transform="translate(197.40 284.80) scale(1.0 1.088)" font-size="62.9" font-weight="bold" text-anchor="end" font-family='"Liberation Sans", sans-serif' stroke="#000" stroke-width="0.6" stroke-linejoin="miter" >18</text>
<rect x="130.20" y="275.32" width="11.77" height="10.68" fill="#fefefe" />
<rect x="150.90" y="275.32" width="10.97" height="10.68" fill="#fefefe" />
<rect x="368.50" y="1714.30" width="14.20" height="49.20" fill="#000" />
<text transform="translate(375.40 1834.40) scale(1.0 1.088)" font-size="62.9" font-weight="bold" text-anchor="middle" font-family='"Liberation Sans", sans-serif' stroke="#000" stroke-width="0.6" stroke-linejoin="miter" >0</text>
<rect x="544.10" y="1714.30" width="14.20" height="49.20" fill="#000" />
<text transform="translate(551.00 1834.40) scale(1.0 1.088)" font-size="62.9" font-weight="bold" text-anchor="middle" font-family='"Liberation Sans", sans-serif' stroke="#000" stroke-width="0.6" stroke-linejoin="miter" >4</text>
<rect x="719.30" y="1714.30" width="14.20" height="49.20" fill="#000" />
<text transform="translate(726.20 1834.40) scale(1.0 1.088)" font-size="62.9" font-weight="bold" text-anchor="middle" font-family='"Liberation Sans", sans-serif' stroke="#000" stroke-width="0.6" stroke-linejoin="miter" >8</text>
<rect x="895.30" y="1714.30" width="14.20" height="49.20" fill="#000" />
<text transform="translate(902.20 1834.40) scale(1.0 1.088)" font-size="62.9" font-weight="bold" text-anchor="middle" font-family='"Liberation Sans", sans-serif' stroke="#000" stroke-width="0.6" stroke-linejoin="miter" >12</text>
<rect x="869.98" y="1824.92" width="11.77" height="10.68" fill="#fefefe" />
<rect x="890.68" y="1824.92" width="10.97" height="10.68" fill="#fefefe" />
<rect x="1188.00" y="1714.30" width="14.20" height="49.20" fill="#000" />
<text transform="translate(1194.90 1834.40) scale(1.0 1.088)" font-size="62.9" font-weight="bold" text-anchor="middle" font-family='"Liberation Sans", sans-serif' stroke="#000" stroke-width="0.6" stroke-linejoin="miter" >0</text>
<rect x="1364.30" y="1714.30" width="14.20" height="49.20" fill="#000" />
<text transform="translate(1371.20 1834.40) scale(1.0 1.088)" font-size="62.9" font-weight="bold" text-anchor="middle" font-family='"Liberation Sans", sans-serif' stroke="#000" stroke-width="0.6" stroke-linejoin="miter" >4</text>
<rect x="1540.00" y="1714.30" width="14.20" height="49.20" fill="#000" />
<text transform="translate(1546.90 1834.40) scale(1.0 1.088)" font-size="62.9" font-weight="bold" text-anchor="middle" font-family='"Liberation Sans", sans-serif' stroke="#000" stroke-width="0.6" stroke-linejoin="miter" >8</text>
<rect x="1715.20" y="1714.30" width="14.20" height="49.20" fill="#000" />
<text transform="translate(1722.10 1834.40) scale(1.0 1.088)" font-size="62.9" font-weight="bold" text-anchor="middle" font-family='"Liberation Sans", sans-serif' stroke="#000" stroke-width="0.6" stroke-linejoin="miter" >12</text>
<rect x="1689.88" y="1824.92" width="11.77" height="10.68" fill="#fefefe" />
<rect x="1710.58" y="1824.92" width="10.97" height="10.68" fill="#fefefe" />
<line x1="376.00" y1="909.40" x2="376.00" y2="1246.20" stroke="#000" stroke-width="8.6" stroke-linecap="butt"/>
<line x1="347.30" y1="909.40" x2="404.70" y2="909.40" stroke="#000" stroke-width="8.6" stroke-linecap="round"/>
<line x1="347.30" y1="1246.20" x2="404.70" y2="1246.20" stroke="#000" stroke-width="8.6" stroke-linecap="round"/>
<line x1="551.60" y1="684.10" x2="551.60" y2="988.60" stroke="#000" stroke-width="8.6" stroke-linecap="butt"/>
<line x1="522.90" y1="684.10" x2="580.30" y2="684.10" stroke="#000" stroke-width="8.6" stroke-linecap="round"/>
<line x1="522.90" y1="988.60" x2="580.30" y2="988.60" stroke="#000" stroke-width="8.6" stroke-linecap="round"/>
<line x1="726.80" y1="1246.80" x2="726.80" y2="1494.00" stroke="#000" stroke-width="8.6" stroke-linecap="butt"/>
<line x1="698.10" y1="1246.80" x2="755.50" y2="1246.80" stroke="#000" stroke-width="8.6" stroke-linecap="round"/>
<line x1="698.10" y1="1494.00" x2="755.50" y2="1494.00" stroke="#000" stroke-width="8.6" stroke-linecap="round"/>
<line x1="902.80" y1="1056.70" x2="902.80" y2="1605.80" stroke="#000" stroke-width="8.6" stroke-linecap="butt"/>
<line x1="874.10" y1="1056.70" x2="931.50" y2="1056.70" stroke="#000" stroke-width="8.6" stroke-linecap="round"/>
<line x1="874.10" y1="1605.80" x2="931.50" y2="1605.80" stroke="#000" stroke-width="8.6" stroke-linecap="round"/>
<line x1="1195.50" y1="909.60" x2="1195.50" y2="1246.20" stroke="#000" stroke-width="8.6" stroke-linecap="butt"/>
<line x1="1166.80" y1="909.60" x2="1224.20" y2="909.60" stroke="#000" stroke-width="8.6" stroke-linecap="round"/>
<line x1="1166.80" y1="1246.20" x2="1224.20" y2="1246.20" stroke="#000" stroke-width="8.6" stroke-linecap="round"/>
<line x1="1371.80" y1="684.40" x2="1371.80" y2="988.00" stroke="#000" stroke-width="8.6" stroke-linecap="butt"/>
<line x1="1343.10" y1="684.40" x2="1400.50" y2="684.40" stroke="#000" stroke-width="8.6" stroke-linecap="round"/>
<line x1="1343.10" y1="988.00" x2="1400.50" y2="988.00" stroke="#000" stroke-width="8.6" stroke-linecap="round"/>
<line x1="1547.50" y1="351.10" x2="1547.50" y2="1083.80" stroke="#000" stroke-width="8.6" stroke-linecap="butt"/>
<line x1="1518.80" y1="351.10" x2="1576.20" y2="351.10" stroke="#000" stroke-width="8.6" stroke-linecap="round"/>
<line x1="1518.80" y1="1083.80" x2="1576.20" y2="1083.80" stroke="#000" stroke-width="8.6" stroke-linecap="round"/>
<line x1="1722.70" y1="1253.00" x2="1722.70" y2="1317.10" stroke="#000" stroke-width="8.6" stroke-linecap="butt"/>
<line x1="1694.00" y1="1253.00" x2="1751.40" y2="1253.00" stroke="#000" stroke-width="8.6" stroke-linecap="round"/>
<line x1="1694.00" y1="1317.10" x2="1751.40" y2="1317.10" stroke="#000" stroke-width="8.6" stroke-linecap="round"/>
<circle cx="376.00" cy="1077.80" r="25.8" fill="#0b7f9b"/>
<circle cx="551.60" cy="836.30" r="25.8" fill="#0b7f9b"/>
<circle cx="726.80" cy="1370.50" r="25.8" fill="#0b7f9b"/>
<circle cx="902.80" cy="1331.80" r="25.8" fill="#0b7f9b"/>
<rect x="1169.00" y="1051.60" width="52.40" height="52.40" fill="#3f0a68" />
<rect x="1345.30" y="809.80" width="52.40" height="52.40" fill="#3f0a68" />
<rect x="1521.00" y="691.60" width="52.40" height="52.40" fill="#3f0a68" />
<rect x="1696.20" y="1259.10" width="52.40" height="52.40" fill="#3f0a68" />
<path d="M326.90 474.70 V369.80 H903.40 V994.50" fill="none" stroke="#000" stroke-width="4.8" stroke-linejoin="miter"/>
<path d="M585.20 498.30 V455.30 H886.00 V1053.00" fill="none" stroke="#000" stroke-width="4.8" stroke-linejoin="miter"/>
<path d="M326.90 876.60 V534.20 H726.30 V996.10" fill="none" stroke="#000" stroke-width="4.8" stroke-linejoin="miter"/>
<path d="M364.70 906.00 V621.00 H537.10 V651.70" fill="none" stroke="#000" stroke-width="4.8" stroke-linejoin="miter"/>
<path d="M557.00 646.80 V621.00 H692.80 V995.20" fill="none" stroke="#000" stroke-width="4.8" stroke-linejoin="miter"/>
<path d="M1321.50 270.00 V98.40 H1758.00 V309.40" fill="none" stroke="#000" stroke-width="4.8" stroke-linejoin="miter"/>
<path d="M1167.00 876.90 V370.00 H1487.80 V657.20" fill="none" stroke="#000" stroke-width="4.8" stroke-linejoin="miter"/>
<path d="M1603.30 657.20 V446.70 H1757.30 V1388.00" fill="none" stroke="#000" stroke-width="4.8" stroke-linejoin="miter"/>
<path d="M1194.80 876.90 V580.30 H1370.60 V646.80" fill="none" stroke="#000" stroke-width="4.8" stroke-linejoin="miter"/>
<text transform="translate(616.00 352.92) scale(0.872 1.0)" font-size="72.0" font-weight="bold" text-anchor="middle" font-family='"DejaVu Sans", sans-serif' stroke="#000" stroke-width="3.8" stroke-linejoin="miter" >*</text>
<text transform="translate(739.15 438.42) scale(0.872 1.0)" font-size="72.0" font-weight="bold" text-anchor="middle" font-family='"DejaVu Sans", sans-serif' stroke="#000" stroke-width="3.8" stroke-linejoin="miter" letter-spacing="6.3">**</text>
<text transform="translate(530.05 516.72) scale(0.872 1.0)" font-size="72.0" font-weight="bold" text-anchor="middle" font-family='"DejaVu Sans", sans-serif' stroke="#000" stroke-width="3.8" stroke-linejoin="miter" letter-spacing="6.3">**</text>
<text transform="translate(452.30 604.02) scale(0.872 1.0)" font-size="72.0" font-weight="bold" text-anchor="middle" font-family='"DejaVu Sans", sans-serif' stroke="#000" stroke-width="3.8" stroke-linejoin="miter" >*</text>
<text transform="translate(628.25 604.02) scale(0.872 1.0)" font-size="72.0" font-weight="bold" text-anchor="middle" font-family='"DejaVu Sans", sans-serif' stroke="#000" stroke-width="3.8" stroke-linejoin="miter" letter-spacing="6.3">**</text>
<text transform="translate(1542.65 82.32) scale(0.872 1.0)" font-size="72.0" font-weight="bold" text-anchor="middle" font-family='"DejaVu Sans", sans-serif' stroke="#000" stroke-width="3.8" stroke-linejoin="miter" letter-spacing="6.3">**</text>
<text transform="translate(1330.35 352.82) scale(0.872 1.0)" font-size="72.0" font-weight="bold" text-anchor="middle" font-family='"DejaVu Sans", sans-serif' stroke="#000" stroke-width="3.8" stroke-linejoin="miter" letter-spacing="6.3">**</text>
<text transform="translate(1683.95 430.42) scale(0.872 1.0)" font-size="72.0" font-weight="bold" text-anchor="middle" font-family='"DejaVu Sans", sans-serif' stroke="#000" stroke-width="3.8" stroke-linejoin="miter" letter-spacing="6.3">**</text>
<text transform="translate(1284.00 563.82) scale(0.872 1.0)" font-size="72.0" font-weight="bold" text-anchor="middle" font-family='"DejaVu Sans", sans-serif' stroke="#000" stroke-width="3.8" stroke-linejoin="miter" >*</text>
<text transform="translate(1549.70 261.50) scale(0.99 1.0)" font-size="80.7" font-weight="bold" text-anchor="middle" font-family='"Liberation Sans", sans-serif' stroke="#000" stroke-width="3.4" stroke-linejoin="miter" letter-spacing="-2.5">##</text>
<text transform="translate(753.10 1135.00) scale(0.99 1.0)" font-size="80.7" font-weight="bold" text-anchor="middle" font-family='"Liberation Sans", sans-serif' stroke="#000" stroke-width="3.4" stroke-linejoin="miter" letter-spacing="-2.5">##</text>
<line x1="1454.00" y1="316.40" x2="1647.00" y2="316.40" stroke="#000" stroke-width="15.4" stroke-linecap="round"/>
<line x1="674.00" y1="1190.50" x2="834.00" y2="1190.50" stroke="#000" stroke-width="15.4" stroke-linecap="round"/>
<circle cx="1940.5" cy="676.6" r="25.8" fill="#0b7f9b"/>
<rect x="1914.40" y="764.50" width="52.00" height="52.50" fill="#3f0a68" />
<text transform="translate(2049.50 699.50) scale(1.0 1.058)" font-size="64.4" font-weight="normal" text-anchor="start" font-family='"Liberation Sans", sans-serif' stroke="#000" stroke-width="0.6" stroke-linejoin="miter" >AT4</text>
<text transform="translate(2049.50 814.30) scale(1.0 1.058)" font-size="64.4" font-weight="normal" text-anchor="start" font-family='"Liberation Sans", sans-serif' stroke="#000" stroke-width="0.6" stroke-linejoin="miter" >AT8</text>
<text transform="translate(1049.70 1935.00) scale(1.0 1.058)" font-size="64.4" font-weight="bold" text-anchor="middle" font-family='"Liberation Sans", sans-serif' stroke="#000" stroke-width="0.6" stroke-linejoin="miter" >Time (Weeks)</text>
<text transform="translate(82.30 991.00) rotate(-90) scale(1.0 1.058)" font-size="64.4" font-weight="bold" text-anchor="middle" font-family='"Liberation Sans", sans-serif' stroke="#000" stroke-width="0.6" stroke-linejoin="miter" >Hexokinase (mU/mL)</text>
</g>
<use href="#chart" class="soft"/>
</svg>
</body>
</html>
